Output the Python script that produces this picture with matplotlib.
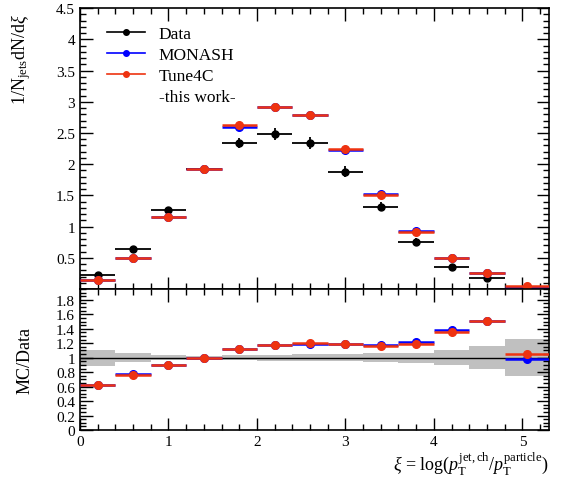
import matplotlib
matplotlib.use("Agg")
import matplotlib.pyplot as plt
import matplotlib.ticker as ticker
from matplotlib.lines import Line2D
import numpy as np

plt.rcParams["font.family"] = "Liberation Serif"
plt.rcParams["mathtext.fontset"] = "custom"
plt.rcParams["mathtext.rm"] = "Liberation Serif"
plt.rcParams["mathtext.it"] = "Liberation Serif:italic"

# ── values ──────────────────────────────────────────────────────────────────
edges = [0.0, 0.4, 0.8, 1.2, 1.6, 2.0, 2.4, 2.8, 3.2, 3.6, 4.0, 4.4, 4.8, 5.3]

data_y   = [0.23, 0.64, 1.27, 1.93, 2.34, 2.48, 2.34, 1.88, 1.32, 0.76, 0.36, 0.17, 0.04]
data_err = [0.02, 0.04, 0.04, 0.06, 0.08, 0.10, 0.10, 0.09, 0.07, 0.05, 0.035, 0.03, 0.01]

monash_y = [0.15, 0.50, 1.15, 1.93, 2.60, 2.91, 2.79, 2.23, 1.53, 0.93, 0.50, 0.26, 0.04]
tune4c_y = [0.14, 0.49, 1.15, 1.93, 2.62, 2.92, 2.79, 2.24, 1.51, 0.91, 0.49, 0.26, 0.042]

monash_ratio = [0.625, 0.775, 0.90, 1.00, 1.115, 1.175, 1.195, 1.19, 1.17, 1.22, 1.385, 1.51, 0.98]
tune4c_ratio = [0.625, 0.760, 0.90, 1.00, 1.125, 1.175, 1.200, 1.195, 1.157, 1.185, 1.35, 1.51, 1.05]

# relative data uncertainty (grey band in ratio panel)
band_rel = [0.11, 0.065, 0.035, 0.03, 0.035, 0.04, 0.045, 0.05, 0.06, 0.07, 0.10, 0.16, 0.26]

BLUE = "#0000ff"
RED = "#ee3311"

edges = np.array(edges)
xc = 0.5 * (edges[1:] + edges[:-1])
xhw = 0.5 * (edges[1:] - edges[:-1])

fig = plt.figure(figsize=(5.63, 4.81), dpi=100)
ax = fig.add_axes([0.142, 0.397, 0.833, 0.584])
axr = fig.add_axes([0.142, 0.104, 0.833, 0.293])

# ── main panel ──────────────────────────────────────────────────────────────
ax.errorbar(xc, data_y, xerr=xhw, yerr=data_err, fmt="o", color="black",
            ms=5, elinewidth=1.3, capsize=0, zorder=3)
ax.errorbar(xc, monash_y, xerr=xhw, fmt="o", color=BLUE,
            ms=5.5, elinewidth=1.8, capsize=0, zorder=4)
ax.errorbar(xc, tune4c_y, xerr=xhw, fmt="o", color=RED,
            ms=5.5, elinewidth=1.8, capsize=0, zorder=5)

ax.set_xlim(0, 5.3)
ax.set_ylim(0, 4.5)
ax.set_yticks([0.5, 1, 1.5, 2, 2.5, 3, 3.5, 4, 4.5])
ax.yaxis.set_major_formatter(ticker.FuncFormatter(lambda v, _: f"{v:g}"))
ax.yaxis.set_minor_locator(ticker.MultipleLocator(0.1))
ax.xaxis.set_major_locator(ticker.MultipleLocator(1))
ax.xaxis.set_minor_locator(ticker.MultipleLocator(0.2))
ax.tick_params(labelbottom=False)
ax.set_ylabel(r"1/N$_{\mathrm{jets}}$dN/d$\xi$", fontsize=13)
ax.yaxis.set_label_coords(-0.1, 0.82)

handles = [
    Line2D([], [], color="black", marker="o", ms=4, lw=1.2),
    Line2D([], [], color=BLUE, marker="o", ms=4, lw=1.2),
    Line2D([], [], color=RED, marker="o", ms=4, lw=1.2),
    Line2D([], [], color="none"),
]
ax.legend(handles, ["Data", "MONASH", "Tune4C", "-this work-"],
          loc="upper left", bbox_to_anchor=(0.035, 0.975), frameon=False,
          fontsize=12.5, handlelength=2.2, handletextpad=0.8,
          labelspacing=0.28, borderaxespad=0.2)

# ── ratio panel ─────────────────────────────────────────────────────────────
band_lo = [1 - r for r in band_rel]
band_hi = [1 + r for r in band_rel]
axr.fill_between(edges, band_lo + [band_lo[-1]], band_hi + [band_hi[-1]],
                 step="post", color="#c0c0c0", lw=0, zorder=1)
axr.axhline(1.0, color="black", lw=1.0, zorder=2)
axr.errorbar(xc, monash_ratio, xerr=xhw, fmt="o", color=BLUE,
             ms=5.5, elinewidth=1.8, capsize=0, zorder=4)
axr.errorbar(xc, tune4c_ratio, xerr=xhw, fmt="o", color=RED,
             ms=5.5, elinewidth=1.8, capsize=0, zorder=5)

axr.set_xlim(0, 5.3)
axr.set_ylim(0, 1.95)
axr.yaxis.set_major_locator(ticker.MultipleLocator(0.2))
axr.yaxis.set_major_formatter(ticker.FuncFormatter(lambda v, _: f"{v:g}"))
axr.yaxis.set_minor_locator(ticker.MultipleLocator(0.05))
axr.xaxis.set_major_locator(ticker.MultipleLocator(1))
axr.xaxis.set_minor_locator(ticker.MultipleLocator(0.2))
axr.set_ylabel("MC/Data", fontsize=13)
axr.yaxis.set_label_coords(-0.1, 0.5)
axr.set_xlabel(r"$\xi$ = log($p_{\mathrm{T}}^{\mathrm{jet,ch}}$/$p_{\mathrm{T}}^{\mathrm{particle}}$)",
               fontsize=13)
axr.xaxis.set_label_coords(1.0, -0.14)
axr.xaxis.label.set_horizontalalignment("right")

for a in (ax, axr):
    a.tick_params(which="both", direction="in", top=True, right=True,
                  labelsize=11, width=1.0)
    a.tick_params(which="major", length=9)
    a.tick_params(which="minor", length=4.5)
    for s in a.spines.values():
        s.set_linewidth(1.2)

fig.savefig("out.png", dpi=100)
